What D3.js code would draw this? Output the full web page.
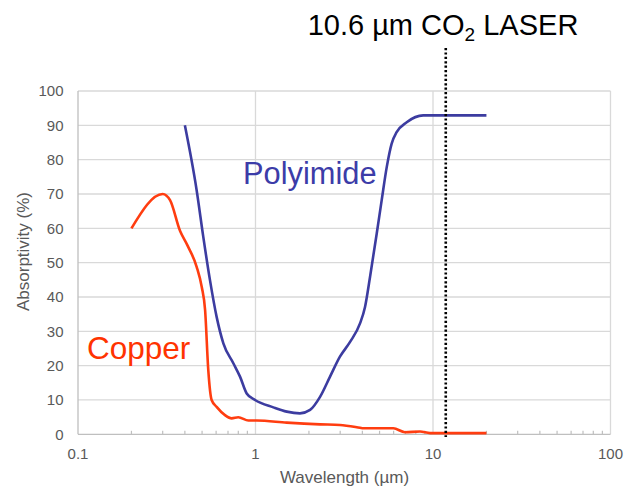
<!DOCTYPE html>
<html>
<head>
<meta charset="utf-8">
<script src="https://cdn.jsdelivr.net/npm/d3@7"></script>
<style>
  html, body { margin: 0; padding: 0; background: #fff; }
  svg { display: block; font-family: "Liberation Sans", Arial, sans-serif; }
</style>
</head>
<body>
<svg id="chart" width="625" height="491"></svg>
<script>
// ---- data ----
const copperWavelength = [0.2, 0.3, 0.33, 0.376, 0.413, 0.466, 0.498, 0.52, 0.542, 0.566, 0.604, 0.673, 0.734, 0.8, 0.912, 1.016, 1.5, 2.31, 2.99, 3.88, 4.05, 5.98, 6.95, 8.45, 9.62, 20];
const copperAbsorptivity = [60, 70, 68.2, 59.2, 55.1, 48.8, 42.9, 36.2, 18.7, 10, 8, 5.6, 4.65, 4.95, 4.0, 4.0, 3.4, 2.9, 2.7, 1.9, 1.75, 1.75, 0.6, 0.8, 0.35, 0.35];
const polyimideWavelength = [0.4, 0.466, 0.508, 0.554, 0.604, 0.659, 0.75, 0.818, 0.892, 0.994, 1.26, 1.5, 1.78, 2.03, 2.31, 2.63, 2.99, 3.41, 3.88, 4.14, 4.42, 4.82, 5.14, 5.49, 5.85, 6.24, 7.11, 8.81, 20];
const polyimideAbsorptivity = [90, 71.1, 57.5, 44.9, 34.2, 26.5, 20.7, 16.8, 11.9, 10, 7.85, 6.6, 6.1, 7.1, 10.9, 16.8, 22.6, 26.9, 32.3, 37.1, 45.9, 58.5, 68.2, 77.9, 84.7, 88, 90.9, 92.9, 92.9];
const laserWavelength = 11.8;
const xTickValues = [0.1, 1, 10, 100];
const xTickLabels = ["0.1", "1", "10", "100"];
const yTickValues = [0, 10, 20, 30, 40, 50, 60, 70, 80, 90, 100];

(function () {
// ---- layout ----
const svg = d3.select("#chart");
const pLeft = 78, pRight = 610.5, pTop = 91, pBottom = 434.3;
const x = d3.scaleLog().domain([0.1, 100]).range([pLeft, pRight]);
const y = d3.scaleLinear().domain([0, 100]).range([pBottom, pTop]);

// horizontal gridlines
svg.append("g").selectAll("line").data(yTickValues.filter(d => d > 0)).join("line")
  .attr("x1", pLeft).attr("x2", pRight)
  .attr("y1", d => y(d)).attr("y2", d => y(d))
  .attr("stroke", "#d9d9d9").attr("stroke-width", 1.3);

// vertical gridlines at decades
svg.append("g").selectAll("line").data(xTickValues.filter(d => d > 0.1)).join("line")
  .attr("x1", d => x(d)).attr("x2", d => x(d))
  .attr("y1", pTop).attr("y2", pBottom)
  .attr("stroke", "#d9d9d9").attr("stroke-width", 1.3);

// minor ticks
const minor = [];
[0.1, 1, 10].forEach(b => { for (let k = 2; k <= 9; k++) minor.push(b * k); });
svg.append("g").selectAll("line").data(minor).join("line")
  .attr("x1", d => x(d)).attr("x2", d => x(d))
  .attr("y1", pBottom - 3.5).attr("y2", pBottom)
  .attr("stroke", "#bfbfbf").attr("stroke-width", 1.2);

// axis lines
svg.append("line").attr("x1", pLeft).attr("x2", pLeft).attr("y1", pTop).attr("y2", pBottom)
  .attr("stroke", "#bfbfbf").attr("stroke-width", 1.3);
svg.append("line").attr("x1", pLeft).attr("x2", pRight).attr("y1", pBottom).attr("y2", pBottom)
  .attr("stroke", "#bfbfbf").attr("stroke-width", 1.3);

// tick labels
svg.append("g").selectAll("text").data(yTickValues).join("text")
  .attr("x", 63.5).attr("y", d => y(d)).attr("dy", "0.35em")
  .attr("text-anchor", "end").attr("font-size", 15).attr("fill", "#595959")
  .text(d => d);
svg.append("g").selectAll("text").data(xTickValues).join("text")
  .attr("x", d => x(d)).attr("y", 458.5)
  .attr("text-anchor", "middle").attr("font-size", 15).attr("fill", "#595959")
  .text((d, i) => xTickLabels[i]);

// axis titles
svg.append("text").attr("x", 344.5).attr("y", 482.5).attr("text-anchor", "middle")
  .attr("font-size", 17).attr("fill", "#595959").text("Wavelength (µm)");
svg.append("text").attr("transform", "translate(29,251.5) rotate(-90)").attr("text-anchor", "middle")
  .attr("font-size", 17).attr("fill", "#595959").text("Absorptivity (%)");

// series
const line = d3.line().x(d => x(d[0])).y(d => y(d[1])).curve(d3.curveMonotoneX);
svg.append("path").datum(d3.zip(copperWavelength, copperAbsorptivity))
  .attr("d", line).attr("fill", "none").attr("stroke", "#ff3d10").attr("stroke-width", 2.6)
  .attr("stroke-linejoin", "round");
svg.append("path").datum(d3.zip(polyimideWavelength, polyimideAbsorptivity))
  .attr("d", line).attr("fill", "none").attr("stroke", "#3c3ca0").attr("stroke-width", 2.6)
  .attr("stroke-linejoin", "round");

// laser line
svg.append("line").attr("x1", x(laserWavelength)).attr("x2", x(laserWavelength))
  .attr("y1", 48).attr("y2", 437)
  .attr("stroke", "#000").attr("stroke-width", 2.6).attr("stroke-dasharray", "2.2,2.2");

// labels
const t = svg.append("text").attr("x", 443).attr("y", 35).attr("text-anchor", "middle")
  .attr("font-size", 29).attr("fill", "#000");
t.append("tspan").text("10.6 µm CO");
t.append("tspan").attr("font-size", 19).attr("dy", 6).text("2");
t.append("tspan").attr("dy", -6).text(" LASER");

svg.append("text").attr("x", 243).attr("y", 184).attr("font-size", 30.8)
  .attr("fill", "#3c3ca8").text("Polyimide");
svg.append("text").attr("x", 87).attr("y", 359).attr("font-size", 31.5)
  .attr("fill", "#ff3300").text("Copper");
})();
</script>
</body>
</html>
